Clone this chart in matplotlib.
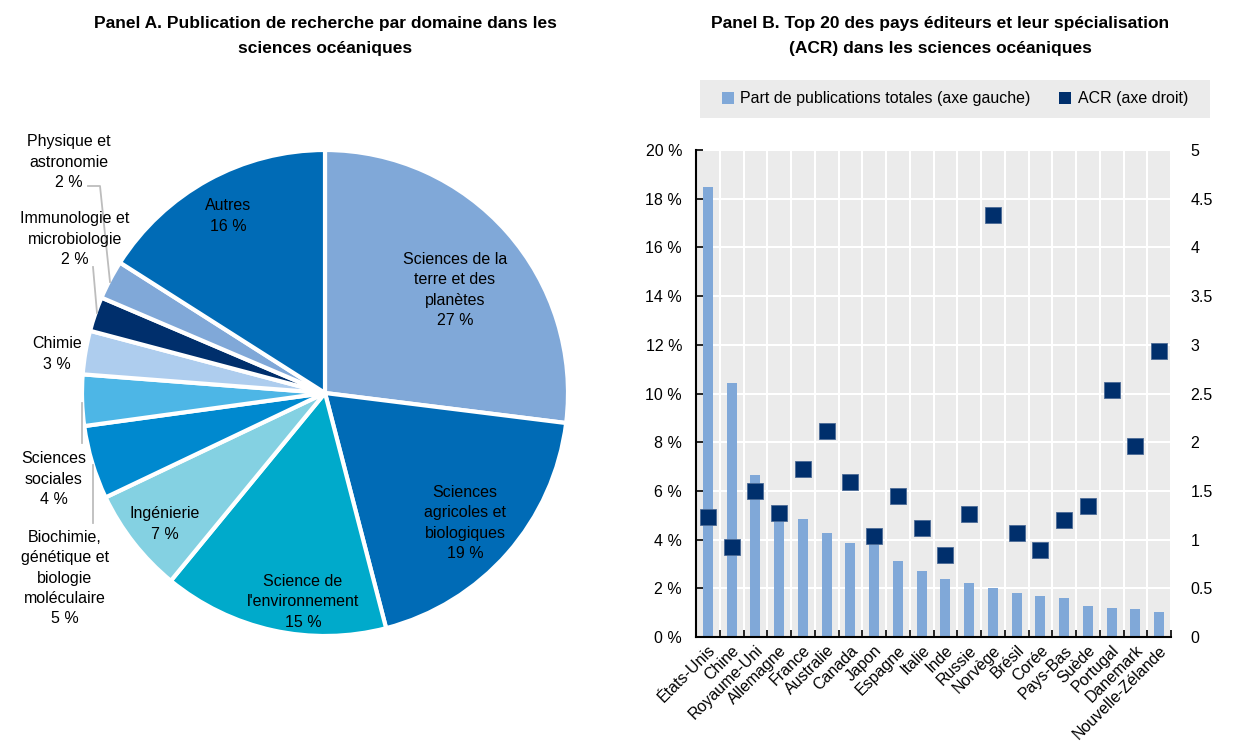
"""
Ocean science publications: pie by field (Panel A) and top-20 countries
with their revealed comparative advantage (Panel B).
"""
import matplotlib
matplotlib.use("Agg")
import matplotlib.pyplot as plt
from matplotlib import font_manager
from matplotlib.patches import Patch, Rectangle
import numpy as np

# ── fonts ─────────────────────────────────────────────────────────────────────
_names = {f.name for f in font_manager.fontManager.ttflist}
FONT = "Liberation Sans Narrow" if "Liberation Sans Narrow" in _names else "Liberation Sans"
plt.rcParams["font.family"] = [FONT, "DejaVu Sans"]

# ── data ──────────────────────────────────────────────────────────────────────
# Panel A (clockwise from 12 o'clock)
fields = ["Sciences de la\nterre et des\nplanètes", "Sciences\nagricoles et\nbiologiques",
          "Science de\nl'environnement", "Ingénierie",
          "Biochimie,\ngénétique et\nbiologie\nmoléculaire", "Sciences\nsociales",
          "Chimie", "Immunologie et\nmicrobiologie", "Physique et\nastronomie", "Autres"]
field_share = [27.0, 19.0, 15.0, 7.0, 4.9, 3.4, 2.9, 2.3, 2.6, 16.0]
field_label = ["27 %", "19 %", "15 %", "7 %", "5 %", "4 %", "3 %", "2 %", "2 %", "16 %"]
field_colors = ["#80A8D8", "#006BB6", "#00AACB", "#84D1E2", "#0089CF",
                "#4DB6E6", "#AECDEE", "#002F6C", "#80A8D8", "#006BB6"]

# Panel B
countries = ["États-Unis", "Chine", "Royaume-Uni", "Allemagne", "France", "Australie",
             "Canada", "Japon", "Espagne", "Italie", "Inde", "Russie", "Norvège",
             "Brésil", "Corée", "Pays-Bas", "Suède", "Portugal", "Danemark",
             "Nouvelle-Zélande"]
pub_share = [18.5, 10.45, 6.67, 5.0, 4.84, 4.29, 3.84, 3.8, 3.12, 2.71, 2.40,
             2.23, 2.03, 1.79, 1.68, 1.62, 1.27, 1.18, 1.16, 1.04]
acr = [1.23, 0.92, 1.50, 1.27, 1.72, 2.11, 1.59, 1.04, 1.45, 1.12, 0.84, 1.26,
       4.33, 1.07, 0.89, 1.20, 1.34, 2.54, 1.96, 2.94]

LIGHT = "#80A8D8"
DARK = "#002F6C"
BG = "#EBEBEB"
FS = 11.5

W, H = 1240, 742
fig = plt.figure(figsize=(W / 100, H / 100), dpi=100)

# ── Panel A: pie ──────────────────────────────────────────────────────────────
cx, cy, r = 325, 393, 243
axA = fig.add_axes([(cx - r) / W, (H - cy - r) / H, 2 * r / W, 2 * r / H])
axA.pie(field_share, colors=field_colors, startangle=90, counterclock=False,
        radius=1.0, wedgeprops=dict(edgecolor="white", linewidth=3))
axA.set_xlim(-1, 1)
axA.set_ylim(-1, 1)
axA.set_aspect("equal")
axA.axis("off")


def px(x, y):
    """pixel position -> pie data coords"""
    return (x - cx) / r, (cy - y) / r


# label positions (pixels, centre of text block)
label_pos = [(455, 290), (465, 523), (303, 602), (165, 524), (65, 578),
             (54, 479), (57, 354), (75, 239), (69, 162), (228, 216)]
for name, lab, (x, y) in zip(fields, field_label, label_pos):
    tx, ty = px(x, y)
    axA.text(tx, ty, name + "\n" + lab, ha="center", va="center",
             fontsize=FS, color="black", linespacing=1.45, clip_on=False)

# leader lines
leaders = [[(88, 186), (100, 186), (110, 282)],
           [(93, 267), (97, 313)],
           [(82, 403), (82, 443)],
           [(93, 465), (93, 523)]]
for seg in leaders:
    xs, ys = zip(*[px(a, b) for a, b in seg])
    axA.plot(xs, ys, color="#BDBDBD", lw=1.3, clip_on=False)

fig.text(325 / W, 1 - 36 / H,
         "Panel A. Publication de recherche par domaine dans les\nsciences océaniques",
         ha="center", va="center", fontsize=12.5, fontweight="bold", linespacing=1.8)

# ── Panel B: bars + ACR markers ───────────────────────────────────────────────
left, right, top, bottom = 696, 1171, 150, 637
axB = fig.add_axes([left / W, (H - bottom) / H, (right - left) / W, (bottom - top) / H])
x = np.arange(len(countries))
axB.set_facecolor(BG)
axB.bar(x, pub_share, width=0.42, color=LIGHT, zorder=2)
axB.set_xlim(-0.5, len(countries) - 0.5)
axB.set_ylim(0, 20)
axB.set_yticks(np.arange(0, 21, 2))
axB.set_yticklabels([f"{v} %" for v in range(0, 21, 2)])
axB.set_xticks(x)
axB.set_xticklabels(countries, rotation=45, ha="right", rotation_mode="anchor")
axB.set_xticks(np.arange(-0.5, len(countries), 1), minor=True)
axB.tick_params(axis="x", which="major", length=0, pad=4, labelsize=FS)
axB.tick_params(axis="x", which="minor", direction="in", length=5, width=1.2)
axB.tick_params(axis="y", direction="in", length=5, width=1.2, labelsize=FS, pad=10)
axB.grid(axis="y", color="white", lw=1.5, zorder=1)
axB.grid(axis="x", which="minor", color="white", lw=1.5, zorder=1)
axB.set_axisbelow(True)
for s in ["top", "right"]:
    axB.spines[s].set_visible(False)
for s in ["left", "bottom"]:
    axB.spines[s].set_linewidth(1.5)

axR = axB.twinx()
axR.plot(x, acr, ls="none", marker="s", ms=11, color=DARK,
         markeredgecolor="#4A6A96", markeredgewidth=0.6, zorder=3)
axR.set_ylim(0, 5)
axR.set_yticks(np.arange(0, 5.01, 0.5))
axR.set_yticklabels([f"{v:g}" for v in np.arange(0, 5.01, 0.5)])
axR.tick_params(axis="y", length=0, labelsize=FS, pad=14)
for s in axR.spines.values():
    s.set_visible(False)

# legend in a grey band above the plot
fig.add_artist(Rectangle((700 / W, 1 - 118 / H), 510 / W, 38 / H,
                         transform=fig.transFigure, facecolor=BG, edgecolor="none"))
handles = [Patch(facecolor=LIGHT, label="Part de publications totales (axe gauche)"),
           Patch(facecolor=DARK, label="ACR (axe droit)")]
fig.legend(handles=handles, loc="center", bbox_to_anchor=(955 / W, 1 - 99 / H),
           ncol=2, frameon=False, fontsize=FS, handlelength=0.75, handleheight=0.75,
           handletextpad=0.4, columnspacing=1.8)

fig.text(940 / W, 1 - 36 / H,
         "Panel B. Top 20 des pays éditeurs et leur spécialisation\n(ACR) dans les sciences océaniques",
         ha="center", va="center", fontsize=12.5, fontweight="bold", linespacing=1.8)

fig.savefig("out.png", dpi=100)
